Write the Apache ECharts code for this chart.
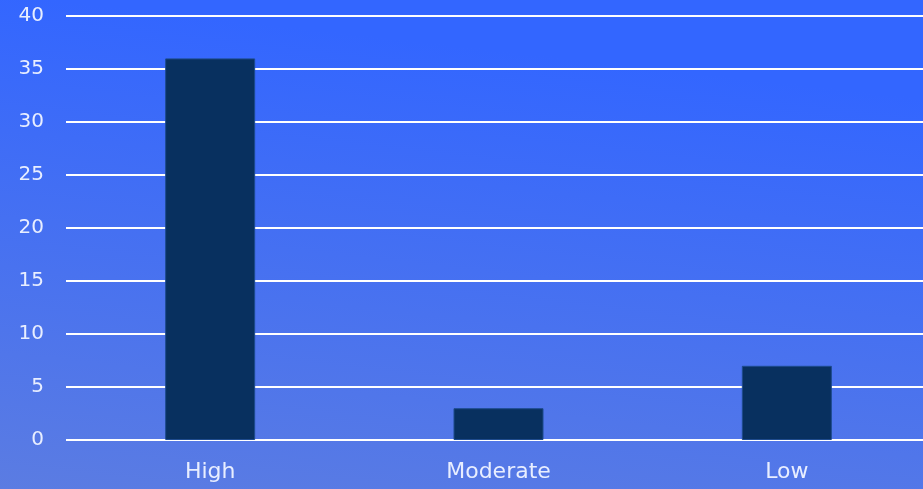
<!DOCTYPE html>
<html>
<head>
<meta charset="utf-8">
<script src="https://cdn.jsdelivr.net/npm/echarts@6/dist/echarts.min.js"></script>
<style>
  html, body { margin: 0; padding: 0; }
  #chart { width: 923px; height: 489px; }
</style>
</head>
<body>
<div id="chart"></div>
<script>
// Risk level counts
const categories = ['High', 'Moderate', 'Low'];
const counts = [36, 3, 7];
const yTicks = { min: 0, max: 40, interval: 5 };

const chart = echarts.init(document.getElementById('chart'));
chart.setOption({
  backgroundColor: {
    type: 'linear', x: 0, y: 1, x2: 0.06, y2: 0,
    colorStops: [
      { offset: 0, color: '#5b7ce2' },
      { offset: 1, color: '#3366ff' }
    ]
  },
  textStyle: { fontFamily: '"DejaVu Sans", sans-serif' },
  grid: { left: 66, right: -8, top: 16, bottom: 49, outerBoundsMode: 'none' },
  xAxis: {
    type: 'category',
    data: categories,
    axisLine: { show: false },
    axisTick: { show: false },
    axisLabel: { color: '#e8eeff', fontSize: 22, margin: 21 }
  },
  yAxis: {
    type: 'value',
    min: yTicks.min, max: yTicks.max, interval: yTicks.interval,
    axisLine: { show: false },
    axisTick: { show: false },
    axisLabel: { color: '#e8eeff', fontSize: 20, margin: 22, padding: [5, 0, 0, 0] },
    splitLine: { lineStyle: { color: '#ffffff', width: 2 } }
  },
  series: [{
    type: 'bar',
    data: counts,
    barWidth: 90,
    itemStyle: { color: '#08305f', borderColor: '#1d4a8c', borderWidth: 1 }
  }]
});
</script>
</body>
</html>
